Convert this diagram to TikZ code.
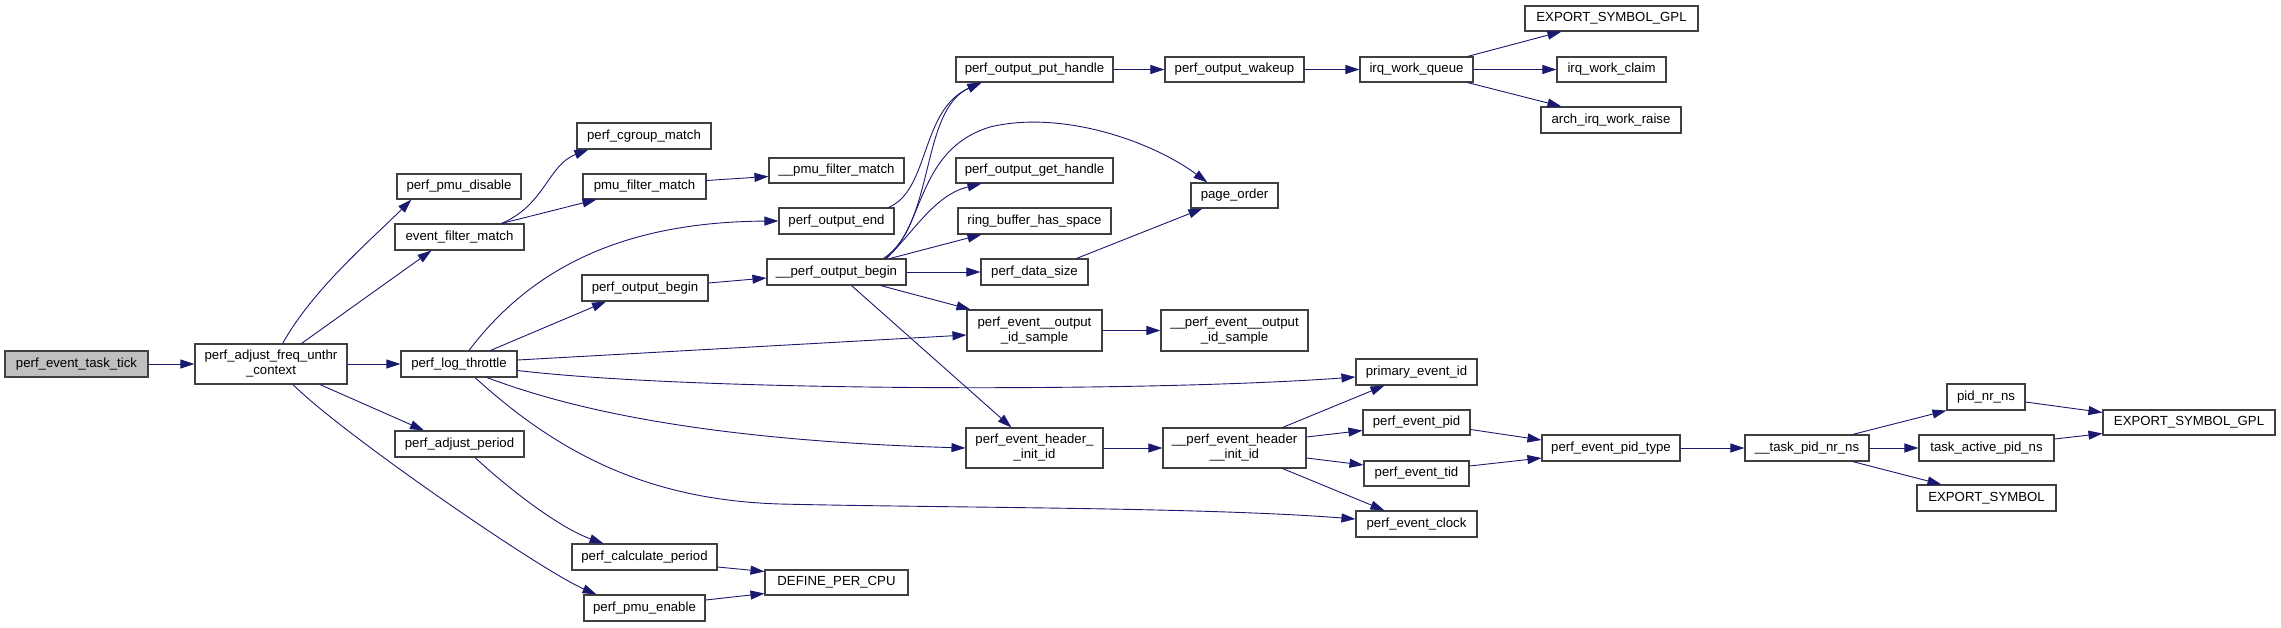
\documentclass[tikz,border=0pt]{standalone}
\usepackage{fontspec}
\setmainfont{Liberation Sans}
\usetikzlibrary{arrows.meta}
\definecolor{edgecol}{HTML}{191970}
\definecolor{boxcol}{HTML}{404040}
\newcommand\mkbox[7][fn]{\node[#1, minimum width=#5pt, minimum height=#6pt] (#2) at (#3,#4) {#7};}
\begin{document}
\begin{tikzpicture}[x=1pt,y=-1pt,
  fn/.style={draw=boxcol, line width=1.1pt, fill=white, inner sep=0pt, align=center, font=\fontsize{13.2}{15}\selectfont},
  rootfn/.style={fn, fill=black!25},
  edge/.style={draw=edgecol, line width=0.9pt, -{Triangle[length=14pt,width=9pt]}},
]
\useasboundingbox (0,0) rectangle (2281,627);
% nodes
\mkbox[rootfn]{tick}{76.5}{364}{143}{26}{perf\_event\_task\_tick}
\mkbox{adjf}{271}{364}{152}{40}{perf\_adjust\_freq\_unthr\\\_context}
\mkbox{pmudis}{459}{186.5}{124}{25}{perf\_pmu\_disable}
\mkbox{efm}{459.5}{237}{129}{26}{event\_filter\_match}
\mkbox{cgm}{644}{136}{134}{26}{perf\_cgroup\_match}
\mkbox{pfm}{644.5}{186.5}{123}{25}{pmu\_filter\_match}
\mkbox{pob}{645}{288}{126}{26}{perf\_output\_begin}
\mkbox{plt}{459}{364}{116}{26}{perf\_log\_throttle}
\mkbox{pap}{459.5}{444}{129}{26}{perf\_adjust\_period}
\mkbox{pcp}{644.5}{557}{145}{26}{perf\_calculate\_period}
\mkbox{pme}{644.5}{608}{121}{26}{perf\_pmu\_enable}
\mkbox{poph}{1034.5}{69.5}{157}{25}{perf\_output\_put\_handle}
\mkbox{pow}{1234.5}{69.5}{139}{25}{perf\_output\_wakeup}
\mkbox{iwq}{1416.5}{69.5}{113}{25}{irq\_work\_queue}
\mkbox{upfm}{836.5}{170.5}{135}{25}{\_\_pmu\_filter\_match}
\mkbox{poe}{836.5}{221}{115}{26}{perf\_output\_end}
\mkbox{upob}{836.5}{272}{139}{26}{\_\_perf\_output\_begin}
\mkbox{pogh}{1034.5}{170.5}{157}{25}{perf\_output\_get\_handle}
\mkbox{rbhs}{1034.5}{221}{153}{26}{ring\_buffer\_has\_space}
\mkbox{pds}{1034.5}{272}{107}{26}{perf\_data\_size}
\mkbox{pgo}{1234.5}{195.5}{87}{25}{page\_order}
\mkbox{peois}{1034.5}{330.5}{135}{41}{perf\_event\_\_output\\\_id\_sample}
\mkbox{upeois}{1234.5}{330.5}{147}{41}{\_\_perf\_event\_\_output\\\_id\_sample}
\mkbox{pei}{1416.5}{372}{121}{26}{primary\_event\_id}
\mkbox{pehii}{1034.5}{448}{137}{40}{perf\_event\_header\_\\\_init\_id}
\mkbox{upehii}{1234.5}{448}{143}{40}{\_\_perf\_event\_header\\\_\_init\_id}
\mkbox{pep}{1416.5}{422.5}{107}{25}{perf\_event\_pid}
\mkbox{pet}{1416.5}{473.5}{105}{25}{perf\_event\_tid}
\mkbox{pec}{1416.5}{524}{121}{26}{perf\_event\_clock}
\mkbox{dpc}{836.5}{582.5}{143}{25}{DEFINE\_PER\_CPU}
\mkbox{esga}{1611.5}{18.5}{173}{25}{EXPORT\_SYMBOL\_GPL}
\mkbox{iwc}{1611.5}{69.5}{109}{25}{irq\_work\_claim}
\mkbox{aiwr}{1611}{120}{140}{26}{arch\_irq\_work\_raise}
\mkbox{pept}{1611}{448}{138}{26}{perf\_event\_pid\_type}
\mkbox{tpnn}{1807}{448}{124}{26}{\_\_task\_pid\_nr\_ns}
\mkbox{pnn}{1986}{397}{78}{26}{pid\_nr\_ns}
\mkbox{tapn}{1986.5}{448}{135}{26}{task\_active\_pid\_ns}
\mkbox{es}{1986.5}{498}{139}{26}{EXPORT\_SYMBOL}
\mkbox{esgb}{2189}{422.5}{172}{25}{EXPORT\_SYMBOL\_GPL}
% edges
\draw[edge] (tick) -- (adjf);
\draw[edge] ([xshift=11.6pt]adjf.north) .. controls (313,289) and (372,239) .. ([xshift=15pt]pmudis.south west);
\draw[edge] ([xshift=30.5pt]adjf.north) -- ([xshift=-28pt]efm.south);
\draw[edge] (adjf) -- (plt);
\draw[edge] ([xshift=49pt]adjf.south) -- ([xshift=-35.5pt]pap.north);
\draw[edge] ([xshift=22pt]adjf.south) .. controls (340,432) and (540,570) .. ([xshift=-48pt]pme.north);
\draw[edge] ([xshift=42pt]efm.north) .. controls (545,205) and (548,165) .. ([xshift=12pt]cgm.south west);
\draw[edge] ([xshift=42pt]efm.north) -- ([xshift=14pt]pfm.south west);
\draw[edge] ([yshift=6pt]pfm.east) -- ([yshift=-6pt]upfm.west);
\draw[edge] ([xshift=10pt]plt.north) .. controls (530,270) and (620,222) .. (poe.west);
\draw[edge] ([xshift=31.5pt]plt.north) -- ([xshift=-39pt]pob.south);
\draw[edge] ([yshift=5pt]pob.east) -- ([yshift=-6pt]upob.west);
\draw[edge] ([yshift=4pt]plt.east) -- ([yshift=-4.5pt]peois.west);
\draw[edge] ([yshift=-6.5pt]plt.east) .. controls (700,392) and (1150,392) .. ([yshift=-5pt]pei.west);
\draw[edge] ([xshift=28pt]plt.south) .. controls (560,405) and (690,440) .. (pehii.west);
\draw[edge] ([xshift=16pt]plt.south) .. controls (560,455) and (650,500) .. (780,504) .. controls (950,508) and (1200,507) .. ([yshift=5pt]pec.west);
\draw[edge] ([xshift=15.5pt]pap.south) .. controls (510,490) and (560,528) .. ([xshift=-41pt]pcp.north);
\draw[edge] ([yshift=-10pt]pcp.east) -- ([yshift=11pt]dpc.west);
\draw[edge] ([yshift=8pt]pme.east) -- ([yshift=-11pt]dpc.west);
\draw[edge] ([xshift=47pt]upob.north) .. controls (935,225) and (920,110) .. ([xshift=26pt]poph.south west);
\draw[edge] ([xshift=52pt]poe.north) .. controls (930,190) and (920,110) .. ([xshift=26pt]poph.south west);
\draw[edge] ([xshift=48.5pt]upob.north) .. controls (925,230) and (915,150) .. (990,127) .. controls (1060,110) and (1150,140) .. ([xshift=17pt]pgo.north west);
\draw[edge] ([xshift=50pt]upob.north) .. controls (915,230) and (935,195) .. ([xshift=26pt]pogh.south west);
\draw[edge] ([xshift=53.5pt]upob.north) -- ([xshift=24pt]rbhs.south west);
\draw[edge] (upob) -- (pds);
\draw[edge] ([xshift=44pt]upob.south) -- ([xshift=4pt]peois.north west);
\draw[edge] ([xshift=15pt]upob.south) -- ([xshift=-23pt]pehii.north);
\draw[edge] (poph) -- (pow);
\draw[edge] (pow) -- (iwq);
\draw[edge] ([xshift=-6pt]iwq.north east) -- ([xshift=37pt]esga.south west);
\draw[edge] (iwq) -- (iwc);
\draw[edge] ([xshift=-6pt]iwq.south east) -- ([xshift=21pt]aiwr.north west);
\draw[edge] ([xshift=42pt]pds.north) -- ([xshift=12pt]pgo.south west);
\draw[edge] (peois) -- (upeois);
\draw[edge] (pehii) -- (upehii);
\draw[edge] ([xshift=48pt]upehii.north) -- ([xshift=29pt]pei.south west);
\draw[edge] ([yshift=11pt]upehii.east) -- ([yshift=-8pt]pep.west);
\draw[edge] ([yshift=-10pt]upehii.east) -- ([yshift=8.5pt]pet.west);
\draw[edge] ([xshift=48pt]upehii.south) -- ([xshift=29pt]pec.north west);
\draw[edge] ([yshift=-7pt]pep.east) -- ([yshift=8pt]pept.west);
\draw[edge] ([yshift=7.5pt]pet.east) -- ([yshift=-10pt]pept.west);
\draw[edge] (pept) -- (tpnn);
\draw[edge] ([xshift=-17pt]tpnn.north east) -- (pnn.south west);
\draw[edge] (tpnn) -- (tapn);
\draw[edge] ([xshift=-17pt]tpnn.south east) -- ([xshift=25pt]es.north west);
\draw[edge] ([yshift=-5pt]pnn.east) -- ([yshift=-3pt]esgb.north west);
\draw[edge] ([yshift=9pt]tapn.east) -- ([yshift=2pt]esgb.south west);
\end{tikzpicture}
\end{document}
